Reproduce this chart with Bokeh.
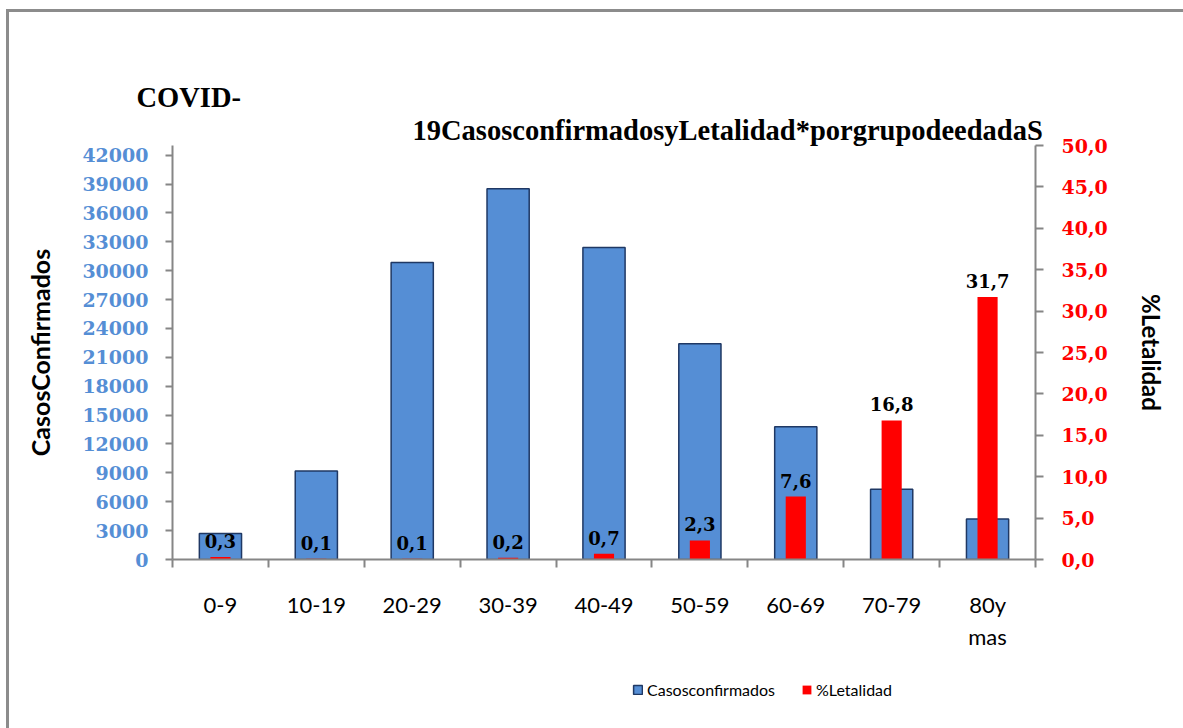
from bokeh.plotting import figure
from bokeh.layouts import column
from bokeh.models import (Range1d, LinearAxis, FixedTicker, Legend, LegendItem, Title,
                          ColumnDataSource)
from bokeh.core.properties import value
from bokeh.embed import file_html
from bokeh.resources import INLINE

# Age groups, confirmed cases and case fatality (%) per group
age_groups = ["0-9", "10-19", "20-29", "30-39", "40-49", "50-59", "60-69", "70-79", "80y mas"]
confirmed_cases = [2700, 9200, 30850, 38500, 32400, 22400, 13800, 7300, 4200]
lethality_pct = [0.3, 0.1, 0.1, 0.2, 0.7, 2.3, 7.6, 16.8, 31.7]

cases_ticks = list(range(0, 42001, 3000))
pct_ticks = [0, 5, 10, 15, 20, 25, 30, 35, 40, 45, 50]
series_names = ["Casosconfirmados", "%Letalidad"]

BLUE = "#558ED5"
NAVY = "#1F3864"
RED = "#FF0000"
AXIS_GRAY = "#868686"
SERIF = "DejaVu Serif"
SANS = "Lato"

centers = [i + 0.5 for i in range(len(age_groups))]
bounds = list(range(len(age_groups) + 1))

p = figure(frame_width=863, frame_height=414, output_backend="svg", toolbar_location=None,
           x_range=Range1d(0, len(age_groups)), y_range=Range1d(0, 43000),
           min_border_left=163, min_border_right=148, min_border_top=133,
           min_border_bottom=105, background_fill_color="white",
           border_fill_color="white")
p.outline_line_color = None
p.grid.visible = False
p.extra_y_ranges = {"pct": Range1d(0, 50)}

# Bars: confirmed cases (left axis) and lethality (right axis)
bar_cases = dict(width=0.44, fill_color=BLUE, line_color=NAVY, line_width=1.5)
bar_pct = dict(width=0.21, fill_color=RED, line_color=None)
p.vbar(x=centers, top=confirmed_cases, bottom=0, **bar_cases)
p.vbar(x=centers, top=lethality_pct, bottom=0, y_range_name="pct", **bar_pct)

pct_text = [f"{v:.1f}".replace(".", ",") for v in lethality_pct]
p.text(x=centers, y=lethality_pct, text=pct_text, y_range_name="pct",
       text_align="center", text_baseline="alphabetic", y_offset=-16,
       text_font=value(SERIF), text_font_style="bold", text_font_size="18px",
       text_color="black")

# x axis: labels at group centres, tick marks between groups
xa = p.xaxis[0]
xa.ticker = FixedTicker(ticks=centers, minor_ticks=bounds)
xa.major_label_overrides = {c: g.replace(" ", "\n") for c, g in zip(centers, age_groups)}
xa.major_tick_line_color = None
xa.major_tick_out = 0
xa.major_tick_in = 0
xa.minor_tick_out = 8
xa.minor_tick_in = 0
xa.minor_tick_line_color = AXIS_GRAY
xa.minor_tick_line_width = 2
xa.axis_line_color = AXIS_GRAY
xa.axis_line_width = 2
xa.major_label_standoff = 23
xa.major_label_text_font = SANS
xa.major_label_text_font_size = "22px"
xa.major_label_text_color = "black"

# left axis: confirmed cases
ya = p.yaxis[0]
ya.ticker = FixedTicker(ticks=cases_ticks)
ya.axis_label = "CasosConfirmados"
ya.axis_label_text_font = SANS
ya.axis_label_text_font_style = "bold"
ya.axis_label_text_font_size = "25px"
ya.axis_label_text_color = "black"
ya.axis_label_standoff = 24
ya.major_label_text_font = SERIF
ya.major_label_text_font_style = "bold"
ya.major_label_text_font_size = "19px"
ya.major_label_text_color = BLUE
ya.major_label_standoff = 17
ya.major_tick_out = 7
ya.major_tick_in = 0
ya.minor_tick_line_color = None
ya.major_tick_line_color = AXIS_GRAY
ya.major_tick_line_width = 2
ya.axis_line_color = AXIS_GRAY
ya.axis_line_width = 2

# right axis: lethality
ra = LinearAxis(y_range_name="pct", ticker=FixedTicker(ticks=pct_ticks))
ra.major_label_overrides = {t: f"{t:.1f}".replace(".", ",") for t in pct_ticks}
ra.axis_label = "%Letalidad"
ra.axis_label_text_font = SANS
ra.axis_label_text_font_style = "bold"
ra.axis_label_text_font_size = "24px"
ra.axis_label_text_color = "black"
ra.axis_label_standoff = 26
ra.major_label_text_font = SERIF
ra.major_label_text_font_style = "bold"
ra.major_label_text_font_size = "19px"
ra.major_label_text_color = RED
ra.major_label_standoff = 18
ra.major_tick_out = 8
ra.major_tick_in = 0
ra.minor_tick_line_color = None
ra.major_tick_line_color = AXIS_GRAY
ra.major_tick_line_width = 2
ra.axis_line_color = AXIS_GRAY
ra.axis_line_width = 2
p.add_layout(ra, "right")

# blank strip between the title and the plot area
p.add_layout(Title(text=" ", text_font_size="1px", standoff=62, text_color=None), "above")

# Title, two lines
title_font = dict(text_font="Liberation Serif", text_font_style="bold",
                  text_font_size="28.5px", text_color="black", align="left", standoff=0)
p.add_layout(Title(text="19CasosconfirmadosyLetalidad*porgrupodeedadaS",
                   offset=240, **title_font), "above")
p.add_layout(Title(text="COVID-", offset=-36, **title_font), "above")

# Legend strip under the chart; its key renderers sit outside the visible range
lg = figure(frame_width=1174, frame_height=64, output_backend="svg", toolbar_location=None,
            x_range=Range1d(0, 1), y_range=Range1d(0, 1), min_border=0,
            x_axis_location=None, y_axis_location=None,
            background_fill_color="white", border_fill_color="white")
lg.outline_line_color = None
lg.grid.visible = False
offscreen = ColumnDataSource(data=dict(x=[5], top=[5], bottom=[4]))
key_cases = lg.vbar(x="x", top="top", bottom="bottom", source=offscreen, **bar_cases)
key_pct = lg.vbar(x="x", top="top", bottom="bottom", source=offscreen, **bar_pct)
legend = Legend(items=[LegendItem(label=series_names[0], renderers=[key_cases], index=0),
                       LegendItem(label=series_names[1], renderers=[key_pct], index=0)],
                orientation="horizontal", location=(623, 29),
                glyph_width=11, glyph_height=11, label_standoff=4, spacing=26,
                padding=0, margin=0, border_line_color=None,
                background_fill_alpha=0, label_text_font=SANS,
                label_text_font_size="16px", label_text_color="black")
lg.add_layout(legend, "center")

# grey chart border on the top and left sides
page = column(p, lg, spacing=0, margin=(9, 0, 0, 6),
              styles={"border-top": "3px solid #8C8C8C", "border-left": "3px solid #8C8C8C"})

open("out.html", "w").write(file_html(page, INLINE))
